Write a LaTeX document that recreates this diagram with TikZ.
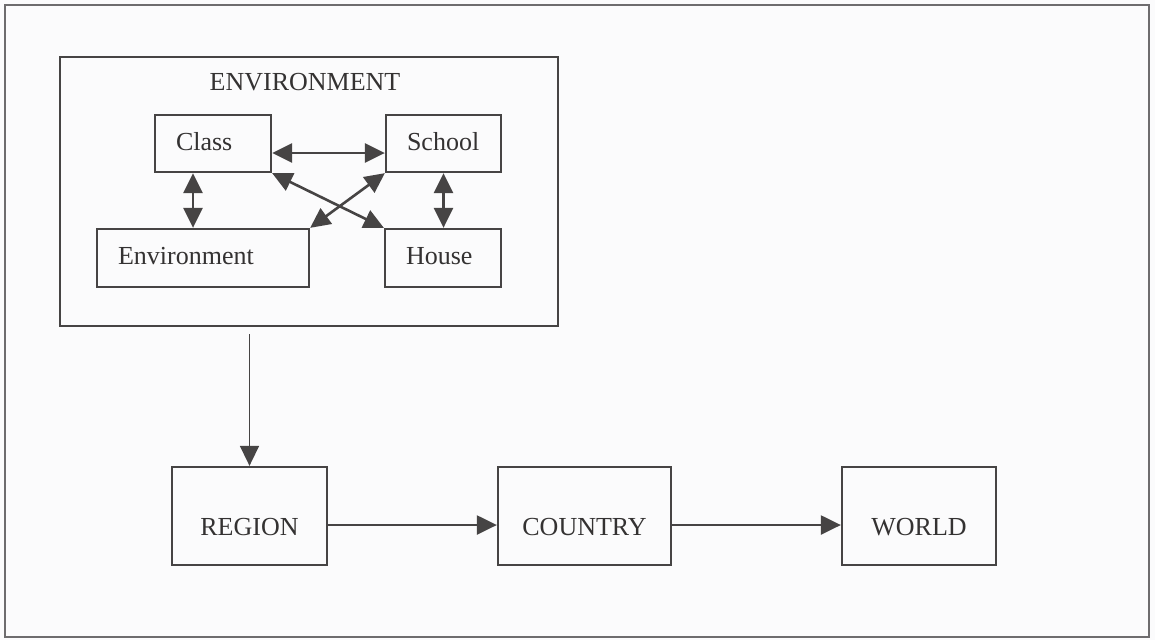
\documentclass[tikz,border=0pt]{standalone}
\usepackage{fontspec}
\setmainfont{Liberation Serif}
\usetikzlibrary{arrows.meta}
\definecolor{ink}{RGB}{70,68,68}
\definecolor{txt}{RGB}{52,50,50}
\definecolor{paper}{RGB}{251,251,252}
\definecolor{frame}{RGB}{110,108,110}
\begin{document}
\begin{tikzpicture}[x=1pt,y=-1pt,
  box/.style={draw=ink,line width=2.3pt,rectangle,inner sep=0pt,text=txt,
    font=\fontsize{26}{30}\selectfont},
  lbox/.style={box,inner xsep=21pt,align=left,text height=18pt,text depth=5pt},
  bbox/.style={box,align=center,text height=45pt,text depth=6pt,minimum height=98pt},
  arr/.style={draw=ink,line width=2.3pt,-{Triangle[length=20pt,width=19pt]}},
  darr/.style={draw=ink,line width=2.6pt,{Triangle[length=20pt,width=19pt]}-{Triangle[length=20pt,width=19pt]}}]
\useasboundingbox (0,0) rectangle (1155,640);
\fill[paper] (0,0) rectangle (1155,640);
\draw[frame,line width=2.6pt] (5,5) rectangle (1149,637);

\node[box,minimum width=498pt,minimum height=269pt] (envbox) at (309,191.5) {};
\node[text=txt,font=\fontsize{26}{30}\selectfont] (title) at (305,82) {ENVIRONMENT};

\node[lbox,text width=74pt,minimum height=57pt] (class) at (213,143.5) {Class};
\node[lbox,text width=73pt,minimum height=57pt] (school) at (443.5,143.5) {School};
\node[lbox,text width=170pt,minimum height=58pt] (envi) at (203,258) {Environment};
\node[lbox,text width=74pt,minimum height=58pt] (house) at (443,258) {House};

\node[bbox,minimum width=155pt] (region) at (249.5,516) {REGION};
\node[bbox,minimum width=173pt] (country) at (584.5,516) {COUNTRY};
\node[bbox,minimum width=154pt] (world) at (919,516) {WORLD};

\draw[darr] ([yshift=-9.5pt]class.east) -- ([yshift=-9.5pt]class.east -| school.west);
\draw[darr] ([xshift=-20pt]class.south) -- ([xshift=-20pt]class.south |- envi.north);
\draw[darr] (school.south) -- (school.south |- house.north);
\draw[darr] (class.south east) -- (house.north west);
\draw[darr] (school.south west) -- (envi.north east);

\coordinate (dstart) at ([yshift=-7pt]envbox.south -| region.north);
\draw[arr,line width=1.6pt] (dstart) -- (region.north);
\draw[arr] ([yshift=-9pt]region.east) -- ([yshift=-9pt]region.east -| country.west);
\draw[arr] ([yshift=-9pt]country.east) -- ([yshift=-9pt]country.east -| world.west);
\end{tikzpicture}
\end{document}
